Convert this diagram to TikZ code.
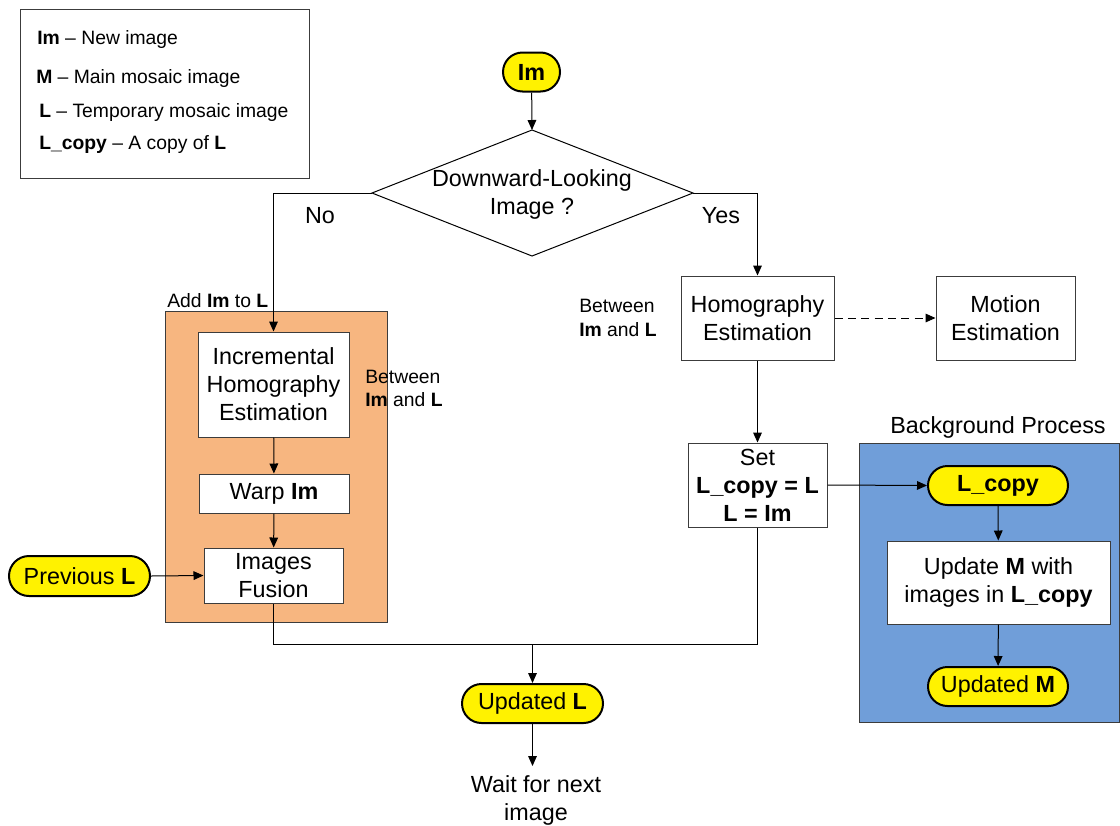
\documentclass[tikz,border=0pt]{standalone}
\usepackage{fontspec}
\setmainfont{Liberation Sans}
\usetikzlibrary{arrows.meta,shapes.misc}
\definecolor{orangefill}{RGB}{247,182,128}
\definecolor{bluefill}{RGB}{112,158,217}
\definecolor{boxline}{RGB}{60,60,60}
\newcommand{\mainsize}{\fontsize{17.5}{21}\selectfont}
\newcommand{\smallsize}{\fontsize{14.5}{17.5}\selectfont}
\tikzset{
  x=0.75pt, y=-0.75pt,
  arr/.style={draw=black, line width=0.75pt, -{Triangle[length=7.5pt,width=6.5pt]}},
  conn/.style={draw=black, line width=0.75pt},
  procbox/.style={draw=boxline, fill=white, line width=0.75pt, align=center, inner sep=0pt, font=\mainsize},
  term/.style={rounded rectangle, draw=black, fill=yellow, line width=1.5pt, align=center, inner sep=0pt, font=\mainsize},
  lbl/.style={inner sep=0pt, font=\mainsize, align=center},
  slbl/.style={inner sep=0pt, font=\smallsize, align=left},
  groupbox/.style={draw=boxline, line width=0.75pt, inner sep=0pt}
}
\begin{document}
\begin{tikzpicture}
\useasboundingbox (0,0) rectangle (1120,825);

% legend
\node[draw=boxline, line width=0.75pt, minimum width=216.75pt, minimum height=126.75pt, inner sep=0pt] (legend) at (164.5,93.5) {};
\node[slbl, anchor=west] (lg1) at (37,39.5) {\textbf{Im} -- New image};
\node[slbl, anchor=west] (lg2) at (36,78) {\textbf{M} -- Main mosaic image};
\node[slbl, anchor=west] (lg3) at (39,112) {\textbf{L} -- Temporary mosaic image};
\node[slbl, anchor=west] (lg4) at (39,145) {\textbf{L\_copy} -- A copy of \textbf{L}};

% group backgrounds
\node[groupbox, fill=orangefill, minimum width=166.5pt, minimum height=233.25pt] (orange) at (276,466.5) {};
\node[groupbox, fill=bluefill, minimum width=195pt, minimum height=209.25pt] (blue) at (989,582.5) {};
\node[slbl, anchor=west] (addlbl) at (167,301) {Add \textbf{Im} to \textbf{L}};
\node[lbl] (bglbl) at (998,427) {Background Process};

% start
\node[term, minimum width=42.75pt, minimum height=29.25pt] (im) at (531.5,72) {\textbf{Im}};

% decision
\coordinate (dT) at (532,130);
\coordinate (dL) at (372,193);
\coordinate (dR) at (693,193);
\coordinate (dB) at (532,256);
\draw[draw=black, line width=0.75pt] (dT) -- (dR) -- (dB) -- (dL) -- cycle;
\node[lbl] (dtext) at (532,194.5) {Downward-Looking\\Image ?};
\node[lbl] (nolbl) at (320,216) {No};
\node[lbl] (yeslbl) at (721,216) {Yes};

% left branch
\node[procbox, minimum width=113.25pt, minimum height=78.75pt] (inc) at (273.5,384.5) {Incremental\\Homography\\Estimation};
\node[procbox, minimum width=112.5pt, minimum height=29.25pt] (warp) at (274,493.5) {Warp \textbf{Im}};
\node[procbox, minimum width=104.25pt, minimum height=41.25pt] (fusion) at (273.5,575.5) {Images\\Fusion};
\node[slbl, anchor=west] (btw1) at (365,388.5) {Between\\\textbf{Im} and \textbf{L}};
\node[term, minimum width=105.75pt, minimum height=30pt] (prev) at (79.5,576) {Previous \textbf{L}};

% right branch
\node[procbox, minimum width=114.75pt, minimum height=63pt] (homo) at (757.5,318) {Homography\\Estimation};
\node[procbox, minimum width=104.25pt, minimum height=63pt] (motion) at (1005.5,318) {Motion\\Estimation};
\node[slbl, anchor=west] (btw2) at (579,318) {Between\\\textbf{Im} and \textbf{L}};
\node[procbox, minimum width=104.25pt, minimum height=63pt] (set) at (757.5,485) {Set\\\textbf{L\_copy = L}\\\textbf{L = Im}};

% background process
\node[term, minimum width=105pt, minimum height=29.25pt] (lcopy) at (998,485.5) {\textbf{L\_copy}};
\node[procbox, minimum width=167.25pt, minimum height=62.25pt] (update) at (998.5,582.5) {Update \textbf{M} with\\images in \textbf{L\_copy}};
\node[term, minimum width=105pt, minimum height=29.25pt] (updM) at (998,686.5) {Updated \textbf{M}};

% output
\coordinate (join) at (532.5,644);
\node[term, minimum width=105.75pt, minimum height=29.25pt] (updL) at (532.5,703.5) {Updated \textbf{L}};
\node[lbl, anchor=north] (wait) at (536,775) {Wait for next\\image};

% connectors
\draw[arr] (im) -- (dT);
\draw[arr] (dL) -| (inc.north);
\draw[arr] (dR) -| (homo.north);
\draw[arr] (inc) -- (warp);
\draw[arr] (warp) -- (fusion);
\draw[arr] (prev.east) -- (fusion.west);
\draw[arr] (homo) -- (set);
\draw[arr, dashed, dash pattern=on 6pt off 4pt] (homo.east) -- (motion.west);
\draw[arr] (set.east) -- (lcopy.west);
\draw[arr] (lcopy) -- (update);
\draw[arr] (update) -- (updM);
\draw[conn] (fusion.south) |- (join);
\draw[conn] (set.south) |- (join);
\draw[arr] (join) -- (updL.north);
\draw[arr, shorten >=6.75pt] (updL.south) -- (updL.south |- wait.north);
\end{tikzpicture}
\end{document}
